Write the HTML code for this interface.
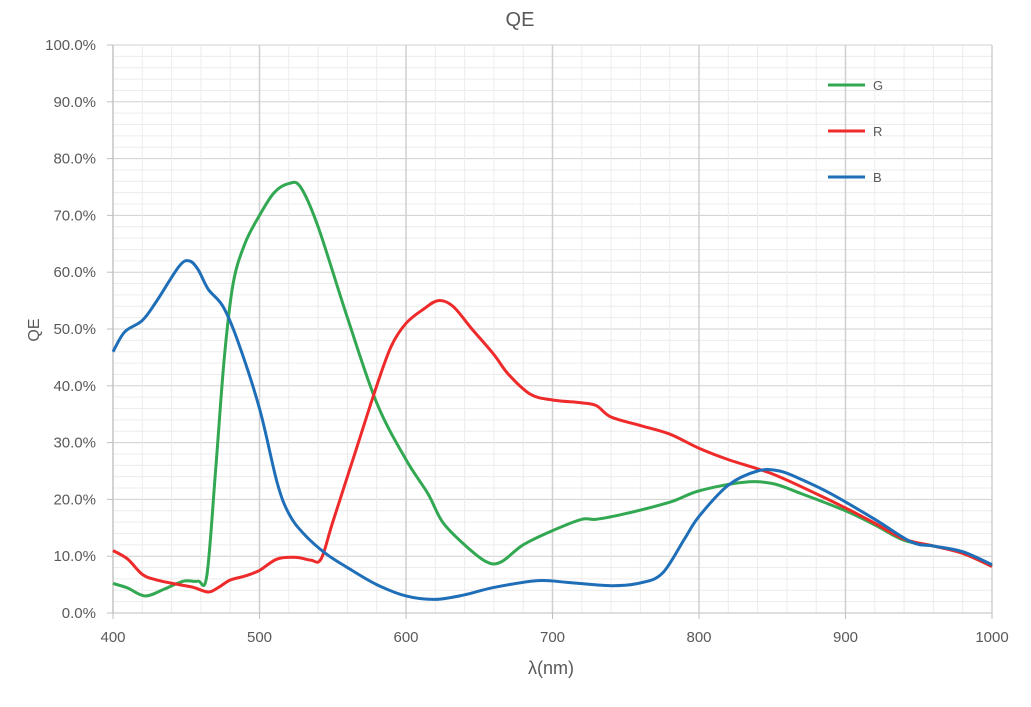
<!DOCTYPE html>
<html><head><meta charset="utf-8"><style>
body{margin:0;background:#fff;font-family:"Liberation Sans",sans-serif}
svg text{font-family:"Liberation Sans",sans-serif;fill:#595959}
</style></head><body>
<svg id="s" width="1031" height="702" xmlns="http://www.w3.org/2000/svg">
<text x="520" y="26" font-size="20" text-anchor="middle">QE</text>
<g id="grid"></g>
<text x="39" y="330" font-size="16" text-anchor="middle" transform="rotate(-90 39 330)">QE</text>
<text x="551" y="674" font-size="18" text-anchor="middle">λ(nm)</text>
<g id="curves" fill="none" stroke-width="3" stroke-linejoin="round"></g>
<line x1="828" y1="85" x2="865" y2="85" stroke="#33a852" stroke-width="3"/>
<text x="873" y="90" font-size="13">G</text>
<line x1="828" y1="131" x2="865" y2="131" stroke="#ee2a2a" stroke-width="3"/>
<text x="873" y="136" font-size="13">R</text>
<line x1="828" y1="177" x2="865" y2="177" stroke="#1f6fb8" stroke-width="3"/>
<text x="873" y="182" font-size="13">B</text>
</svg>
<script>
var NS="http://www.w3.org/2000/svg";
function X(n){return 113+(n-400)*1.465}
function Y(p){return 613-p*5.68}
function el(t,a,p){var e=document.createElementNS(NS,t);for(var k in a)e.setAttribute(k,a[k]);p.appendChild(e);return e}
var g=document.getElementById('grid');
for(var p=0;p<=100;p+=2){var maj=p%10==0;el('line',{x1:113,x2:992,y1:Y(p),y2:Y(p),stroke:maj?'#d0d0d0':'#ececec','stroke-width':1},g);
 if(maj){el('line',{x1:107,x2:113,y1:Y(p),y2:Y(p),stroke:'#bfbfbf'},g);var t=el('text',{x:96,y:Y(p)+5,'font-size':15,'text-anchor':'end'},g);t.textContent=p.toFixed(1)+'%';}}
for(var n=400;n<=1000;n+=20){var maj=n%100==0;el('line',{x1:X(n),x2:X(n),y1:Y(0),y2:Y(100),stroke:maj?'#d0d0d0':'#ececec','stroke-width':maj?1.5:1},g);
 if(maj){el('line',{x1:X(n),x2:X(n),y1:613,y2:619,stroke:'#bfbfbf'},g);var t=el('text',{x:X(n),y:642,'font-size':15,'text-anchor':'middle'},g);t.textContent=n;}}
el('line',{x1:113,x2:113,y1:Y(0),y2:Y(100),stroke:'#bfbfbf'},g);
el('line',{x1:113,x2:992,y1:613,y2:613,stroke:'#bfbfbf'},g);
function path(d){var pts=[];for(var i=0;i<d.length;i+=2)pts.push([X(d[i]),Y(d[i+1])]);
 var s='M'+pts[0][0]+','+pts[0][1];
 for(var i=0;i<pts.length-1;i++){var p0=pts[i-1]||pts[i],p1=pts[i],p2=pts[i+1],p3=pts[i+2]||p2;
  s+=' C'+(p1[0]+(p2[0]-p0[0])/6)+','+(p1[1]+(p2[1]-p0[1])/6)+' '+(p2[0]-(p3[0]-p1[0])/6)+','+(p2[1]-(p3[1]-p1[1])/6)+' '+p2[0]+','+p2[1];}
 return s;}
var c=document.getElementById('curves');
var G=[400,5.2,410,4.4,422,3.0,435,4.2,448,5.6,458,5.6,464,6.5,470,25,476,45,482,58,490,65,500,70,510,74,520,75.6,528,75,540,68,560,52,580,37,600,27,615,21,625,16,640,12,655,9,665,9,680,12,700,14.5,720,16.5,730,16.5,750,17.5,780,19.5,800,21.5,830,23,850,22.8,870,21,900,18,920,15.5,940,12.8,960,11.8,980,10.5,1000,8.2];
var R=[400,11,410,9.5,420,6.8,430,5.8,445,5,455,4.5,465,3.7,472,4.5,480,5.8,490,6.5,500,7.5,512,9.5,525,9.8,535,9.3,542,9.5,550,16,565,28,580,40,590,47,600,51,612,53.5,622,55,632,54,645,50,660,45.5,670,42,685,38.5,700,37.5,720,37,730,36.5,740,34.5,760,33,780,31.5,800,29,820,27,850,24.5,880,21,900,18.5,920,15.8,940,13,960,11.8,980,10.5,1000,8.2];
var B=[400,46,408,49.5,420,51.5,430,55,445,61,452,62,458,60.5,465,57,475,54,485,48,500,36,512,23,520,17.5,530,14,545,10.5,560,8,580,5,600,3,620,2.4,640,3.2,660,4.5,690,5.7,710,5.4,740,4.8,760,5.3,775,7,790,13,800,17,820,22.5,840,25,855,25,870,23.5,890,21,920,16.5,945,12.5,960,11.8,980,10.8,1000,8.5];
el('path',{d:path(G),stroke:'#33a852'},c);
el('path',{d:path(R),stroke:'#ee2a2a'},c);
el('path',{d:path(B),stroke:'#1f6fb8'},c);
</script>
</body></html>
